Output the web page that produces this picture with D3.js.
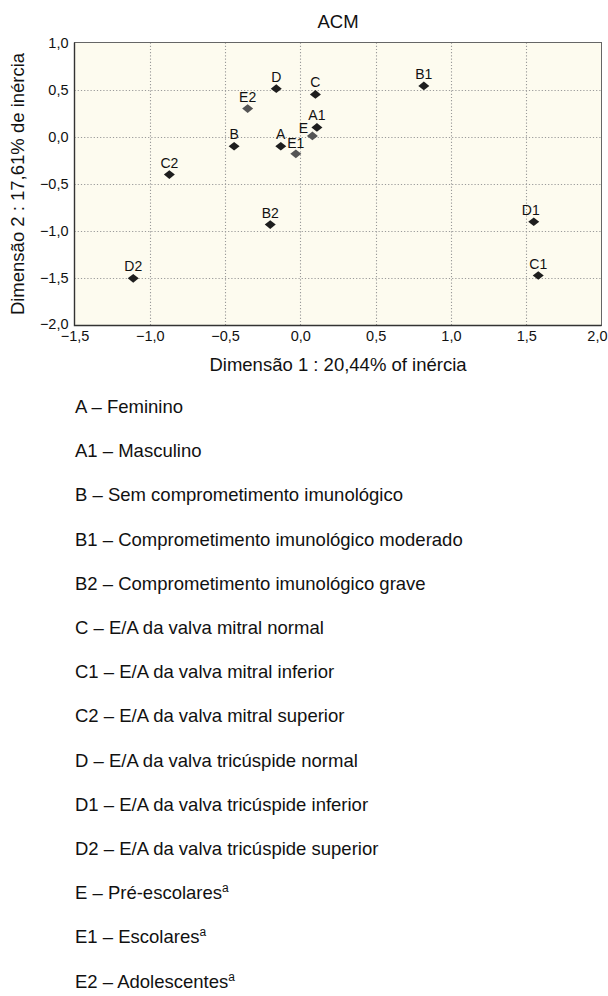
<!DOCTYPE html>
<html>
<head>
<meta charset="utf-8">
<script src="https://cdn.jsdelivr.net/npm/d3@7"></script>
<style>
  body { margin: 0; background: #fff; }
  text { font-family: "Liberation Sans", Arial, sans-serif; fill: #111; }
</style>
</head>
<body>
<svg id="fig" width="608" height="996"></svg>
<script>
// points of the ACM map
var labels = ["A", "A1", "B", "B1", "B2", "C", "C1", "C2", "D", "D1", "D2", "E", "E1", "E2"];
var dim1   = [-0.13, 0.11, -0.44, 0.82, -0.20, 0.10, 1.58, -0.87, -0.16, 1.55, -1.11, 0.08, -0.03, -0.35];
var dim2   = [-0.10, 0.10, -0.10, 0.54, -0.93, 0.45, -1.47, -0.40, 0.51, -0.90, -1.50, 0.01, -0.18, 0.30];
var grey   = ["E", "E1", "E2"];

var xticks = [-1.5, -1.0, -0.5, 0.0, 0.5, 1.0, 1.5, 2.0];
var yticks = [-2.0, -1.5, -1.0, -0.5, 0.0, 0.5, 1.0];

var legend = [
  ["A", "Feminino", false],
  ["A1", "Masculino", false],
  ["B", "Sem comprometimento imunológico", false],
  ["B1", "Comprometimento imunológico moderado", false],
  ["B2", "Comprometimento imunológico grave", false],
  ["C", "E/A da valva mitral normal", false],
  ["C1", "E/A da valva mitral inferior", false],
  ["C2", "E/A da valva mitral superior", false],
  ["D", "E/A da valva tricúspide normal", false],
  ["D1", "E/A da valva tricúspide inferior", false],
  ["D2", "E/A da valva tricúspide superior", false],
  ["E", "Pré-escolares", true],
  ["E1", "Escolares", true],
  ["E2", "Adolescentes", true]
];

// label nudges so they sit like in the original
var nudge = { "E": [-9, 4], "E1": [0, 1], "D1": [-3, 0] };

var svg = d3.select("#fig");
var L = 74.5, R = 601.5, T = 42.5, B = 325.5;

var x = d3.scaleLinear().domain([-1.5, 2.0]).range([L, R]);
var y = d3.scaleLinear().domain([-2.0, 1.0]).range([B, T]);

svg.append("rect")
   .attr("x", L).attr("y", T)
   .attr("width", R - L).attr("height", B - T)
   .attr("fill", "#fdfbef");

// dotted grid
var grid = svg.append("g").attr("stroke", "#9a9a9a").attr("stroke-width", 1.1).attr("stroke-dasharray", "1.2,2");
grid.selectAll("line.v").data(xticks.slice(1, -1)).enter().append("line")
    .attr("x1", function(d){ return Math.round(x(d)) + 0.5; })
    .attr("x2", function(d){ return Math.round(x(d)) + 0.5; })
    .attr("y1", T).attr("y2", B);
grid.selectAll("line.h").data(yticks.slice(1, -1)).enter().append("line")
    .attr("y1", function(d){ return Math.round(y(d)) + 0.5; })
    .attr("y2", function(d){ return Math.round(y(d)) + 0.5; })
    .attr("x1", L).attr("x2", R);

// frame
svg.append("rect")
   .attr("x", L).attr("y", T)
   .attr("width", R - L).attr("height", B - T)
   .attr("fill", "none").attr("stroke", "#666").attr("stroke-width", 1);
svg.append("path")
   .attr("d", "M" + L + "," + T + "V" + B + "H" + R)
   .attr("fill", "none").attr("stroke", "#333").attr("stroke-width", 1.4);

function fmt(v){ return d3.format(".1f")(v).replace(".", ",").replace("-", "\u2013"); }

var xAxis = d3.axisBottom(x).tickValues(xticks).tickSize(0).tickPadding(5).tickFormat(fmt);
var gx = svg.append("g").attr("transform", "translate(0," + B + ")").call(xAxis);
gx.select(".domain").remove();
gx.selectAll("text").style("font-size", "14.5px").attr("font-family", "Liberation Sans, Arial").attr("fill", "#111");
// last label would run off the page
gx.selectAll(".tick").filter(function(d){ return d == 2.0; }).select("text")
  .attr("text-anchor", "end").attr("x", 607 - R);

var yAxis = d3.axisLeft(y).tickValues(yticks).tickSize(0).tickPadding(6).tickFormat(fmt);
var gy = svg.append("g").attr("transform", "translate(" + L + ",0)").call(yAxis);
gy.select(".domain").remove();
gy.selectAll("text").style("font-size", "14.5px").attr("font-family", "Liberation Sans, Arial").attr("fill", "#111");
gy.selectAll(".tick").filter(function(d){ return d == -2.0; }).select("text").attr("dy", "0.2em");

svg.append("text").attr("x", (L + R) / 2).attr("y", 28)
   .attr("text-anchor", "middle").style("font-size", "18.5px").text("ACM");
svg.append("text").attr("x", (L + R) / 2).attr("y", 371)
   .attr("text-anchor", "middle").style("font-size", "18.5px").text("Dimensão 1 : 20,44% of inércia");
svg.append("text")
   .attr("transform", "translate(24," + ((T + B) / 2) + ") rotate(-90)")
   .attr("text-anchor", "middle").style("font-size", "18.5px").text("Dimensão 2 : 17,61% de inércia");

var pts = labels.map(function(l, i){ return { label: l, d1: dim1[i], d2: dim2[i] }; });

var sym = d3.symbol().type(d3.symbolSquare).size(42);
svg.append("g").selectAll("path")
   .data(pts).enter().append("path")
   .attr("d", sym)
   .attr("transform", function(d){
       return "translate(" + x(d.d1) + "," + y(d.d2) + ") scale(1.2,0.95) rotate(45)";
   })
   .attr("fill", function(d){ return grey.indexOf(d.label) >= 0 ? "#555" : "#1e1e1e"; });

svg.append("g").selectAll("text")
   .data(pts).enter().append("text")
   .attr("x", function(d){ return x(d.d1) + (nudge[d.label] ? nudge[d.label][0] : 0); })
   .attr("y", function(d){ return y(d.d2) - 7 + (nudge[d.label] ? nudge[d.label][1] : 0); })
   .attr("text-anchor", "middle")
   .style("font-size", "14px")
   .text(function(d){ return d.label; });

// legend list
var lg = svg.append("g");
legend.forEach(function(it, i){
    var t = lg.append("text")
        .attr("x", 75).attr("y", 413 + i * 44.2)
        .style("font-size", "18.5px")
        .text(it[0] + " \u2013 " + it[1]);
    if( it[2] ){
        t.append("tspan").attr("dy", "-7").style("font-size", "12px").text("a");
    }
});
</script>
</body>
</html>
